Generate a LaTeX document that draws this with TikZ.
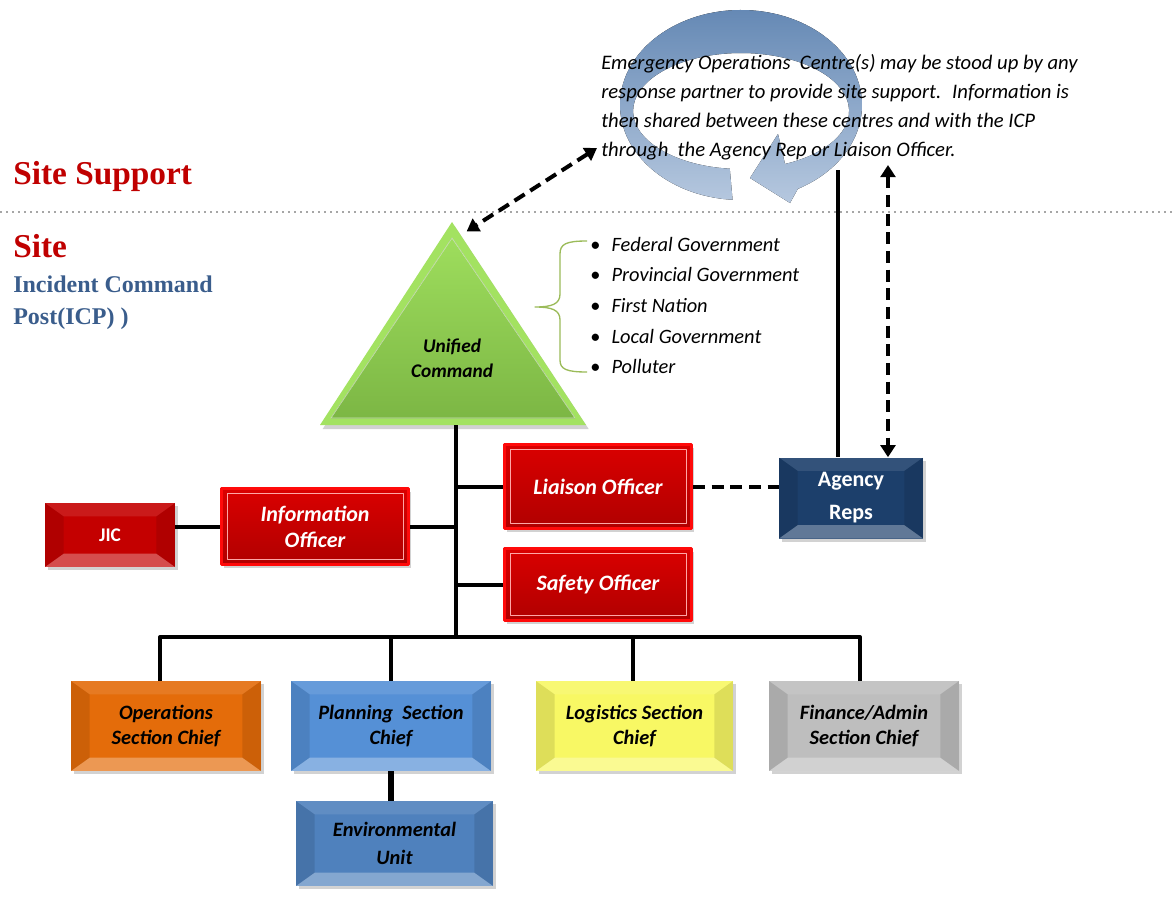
\documentclass[tikz,border=0pt]{standalone}
\usepackage{fontspec}
\setmainfont{Carlito}
\newfontfamily\headfont{Liberation Serif}
\usetikzlibrary{arrows.meta,shadows,calc}

\definecolor{sitered}{HTML}{C00000}
\definecolor{icpblue}{HTML}{3A5D8C}
\definecolor{brightred}{HTML}{FF0A0A}
\definecolor{redtop}{HTML}{DA0000}
\definecolor{redbot}{HTML}{B00000}
\definecolor{jicred}{HTML}{C40000}
\definecolor{navy}{HTML}{1C3F6B}
\definecolor{opsorange}{HTML}{E46C0A}
\definecolor{planblue}{HTML}{5590D6}
\definecolor{envblue}{HTML}{4F81BD}
\definecolor{logyellow}{HTML}{F8F864}
\definecolor{fingray}{HTML}{BEBEBE}
\definecolor{ucgreen}{HTML}{8ACB4C}
\definecolor{rimgreen}{HTML}{A3E261}
\definecolor{bracegreen}{HTML}{9BBB59}
\definecolor{ringdark}{HTML}{6488B4}
\definecolor{ringlight}{HTML}{B6C8DF}

\tikzset{
	bevel/.style={path picture={
		\coordinate (bSW) at (path picture bounding box.south west);
		\coordinate (bSE) at (path picture bounding box.south east);
		\coordinate (bNW) at (path picture bounding box.north west);
		\coordinate (bNE) at (path picture bounding box.north east);
		\fill[white,opacity=.3] (bSW) -- (bSE) -- ([shift={(-14pt,10pt)}]bSE) -- ([shift={(14pt,10pt)}]bSW) -- cycle;
		\fill[black,opacity=.1] (bSW) -- (bNW) -- ([shift={(14pt,-10pt)}]bNW) -- ([shift={(14pt,10pt)}]bSW) -- cycle;
		\fill[black,opacity=.1] (bSE) -- (bNE) -- ([shift={(-14pt,-10pt)}]bNE) -- ([shift={(-14pt,10pt)}]bSE) -- cycle;
		\fill[white,opacity=.1] (bNW) -- (bNE) -- ([shift={(-14pt,-10pt)}]bNE) -- ([shift={(14pt,-10pt)}]bNW) -- cycle;
	}},
	box/.style={rectangle, align=center, inner sep=2pt, font=\fontsize{15.3pt}{18.5pt}\selectfont\bfseries\itshape,
		drop shadow={opacity=.35, shadow xshift=2pt, shadow yshift=-2.5pt}},
	chief/.style={box, bevel, minimum width=142.5pt, minimum height=67.5pt, text=black},
	officer/.style={box, draw=brightred, line width=2.5pt, top color=redtop, bottom color=redbot, text=white,
		minimum width=140pt, font=\fontsize{16.5pt}{19.5pt}\selectfont\bfseries\itshape, path picture={
		\draw[red!35!white, line width=.6pt] ([shift={(4pt,4pt)}]path picture bounding box.south west) rectangle ([shift={(-4pt,-4pt)}]path picture bounding box.north east);}},
	tree/.style={line width=3pt},
	dashlink/.style={line width=3pt, dash pattern=on 9pt off 5pt},
	twoway/.style={{Triangle[width=11pt,length=9pt]}-{Triangle[width=11pt,length=9pt]}},
	head/.style={font=\headfont\fontsize{25pt}{28pt}\selectfont\bfseries, text=sitered, inner sep=0pt},
}

\begin{document}
\begin{tikzpicture}[x=0.75pt,y=-0.75pt,line join=round]
	\useasboundingbox (0,0) rectangle (1174,917);
	\fill[white] (0,0) rectangle (1174,917);

	% circular arrow behind the note
	\fill[top color=ringdark, bottom color=ringlight, middle color=ringdark!50!ringlight]
		($(741,105)+(94:121 and 95)$) arc[start angle=94, end angle=422, x radius=121, y radius=95]
		-- (790,203) -- (750,178) -- (778,134) -- (785,164)
		arc[start angle=426, end angle=96, x radius=108, y radius=58] -- cycle;

	\node[anchor=north west, inner sep=0pt, align=left, font=\fontsize{15.5pt}{21.75pt}\selectfont\itshape] (eocNote) at (601,54)
		{Emergency Operations~ Centre(s) may be stood up by any\\
		 response partner to provide site support.~ Information is\\
		 then shared between these centres and with the ICP\\
		 through~ the Agency Rep or Liaison Officer.};

	% site / site support split
	\draw[gray!70, line width=1.5pt, dash pattern=on 1.5pt off 3pt] (0,212) -- (1174,212);
	\node[head, anchor=west] (siteSup) at (13,176) {Site Support};
	\node[head, anchor=west] (site) at (13,246) {Site};
	\node[anchor=north west, inner sep=0pt, align=left, text=icpblue, font=\headfont\fontsize{18pt}{23.5pt}\selectfont\bfseries] (icp) at (13,276)
		{Incident Command\\Post(ICP) )};

	% unified command
	\coordinate (ucTop) at (452,222);
	\coordinate (ucL) at (320,425);
	\coordinate (ucR) at (586,425);
	\fill[black,opacity=.18] ([shift={(2pt,-3pt)}]ucTop) -- ([shift={(2pt,-3pt)}]ucR) -- ([shift={(2pt,-3pt)}]ucL) -- cycle;
	\fill[rimgreen] (ucTop) -- (ucR) -- (ucL) -- cycle;
	\fill[top color=rimgreen!80!ucgreen, bottom color=ucgreen!90!black] (452,238) -- (575,418) -- (331,418) -- cycle;
	\draw[white,opacity=.6,line width=.5pt] (452,238) -- (575,418) -- (331,418) -- cycle;
	\node[font=\fontsize{14.5pt}{19pt}\selectfont\bfseries\itshape, align=center] (uc) at (452,358) {Unified\\Command};

	\draw[bracegreen, line width=1pt] (587,241) .. controls (566,241) and (560,244) .. (560,254) -- (560,294)
		.. controls (560,304) and (552,307) .. (535,307) .. controls (552,307) and (560,310) .. (560,320) -- (560,360)
		.. controls (560,369) and (566,372) .. (587,372);
	\node[anchor=north west, inner sep=0pt, align=left, font=\fontsize{15.3pt}{22.9pt}\selectfont\itshape] (govs) at (590,237)
		{\makebox[16pt][l]{\upshape\textbullet}Federal Government\\
		 \makebox[16pt][l]{\upshape\textbullet}Provincial Government\\
		 \makebox[16pt][l]{\upshape\textbullet}First Nation\\
		 \makebox[16pt][l]{\upshape\textbullet}Local Government\\
		 \makebox[16pt][l]{\upshape\textbullet}Polluter};

	% command staff
	\node[box, bevel, fill=jicred, text=white, minimum width=97.5pt, minimum height=48pt, font=\fontsize{14.5pt}{18pt}\selectfont\bfseries] (jic) at (110,535) {JIC};
	\node[officer, minimum height=57pt] (info) at (315,526.5) {Information\\Officer};
	\node[officer, minimum height=63pt] (liaison) at (598,486.5) {Liaison Officer};
	\node[officer, minimum height=54pt] (safety) at (598,584.5) {Safety Officer};
	\node[box, bevel, fill=navy, text=white, minimum width=108pt, minimum height=60.75pt, font=\fontsize{16.5pt}{24.75pt}\selectfont\bfseries] (agency) at (851,498) {Agency\\Reps};

	% general staff
	\node[chief, fill=opsorange] (ops) at (166,726) {Operations\\Section Chief};
	\node[chief, fill=planblue, minimum width=150pt] (plan) at (391,726) {Planning~ Section\\Chief};
	\node[chief, fill=envblue, minimum width=147.75pt, minimum height=63.75pt, font=\fontsize{15.3pt}{20.5pt}\selectfont\bfseries\itshape] (env) at (394.5,843.5) {Environmental\\Unit};
	\node[chief, fill=logyellow, minimum width=147.75pt] (log) at (634.5,726) {Logistics Section\\Chief};
	\node[chief, fill=fingray] (fin) at (864,726) {Finance/Admin\\Section Chief};

	% connectors
	\coordinate (bus) at (456,637);
	\draw[tree] (bus |- ucL) -- (bus);
	\draw[tree] (liaison.west) -- (liaison.west -| bus);
	\draw[tree] (safety.west) -- (safety.west -| bus);
	\draw[tree] (info.east) -- (info.east -| bus);
	\draw[tree] (jic.east |- info.east) -- (info.west);
	\draw[tree] ([xshift=-4.5pt]ops.north) |- (bus) -| ([xshift=-3pt]fin.north);
	\draw[tree] (plan.north) -- (plan.north |- bus);
	\draw[tree] ([xshift=-1.5pt]log.north) -- ([xshift=-1.5pt]log.north |- bus);
	\draw[line width=4.5pt] (plan.south) -- (plan.south |- env.north);
	\draw[dashlink] (liaison.east) -- (liaison.east -| agency.west);

	\coordinate (eocT) at (597,148);
	\coordinate (eocL) at (838,170);
	\coordinate (eocR) at (888,165);
	\draw[dashlink, twoway] (eocT) -- ([shift={(11pt,-7pt)}]ucTop);
	\draw[line width=2.5pt] (eocL) -- (eocL |- agency.north);
	\draw[dashlink, twoway] (eocR) -- (eocR |- agency.north);
\end{tikzpicture}
\end{document}
